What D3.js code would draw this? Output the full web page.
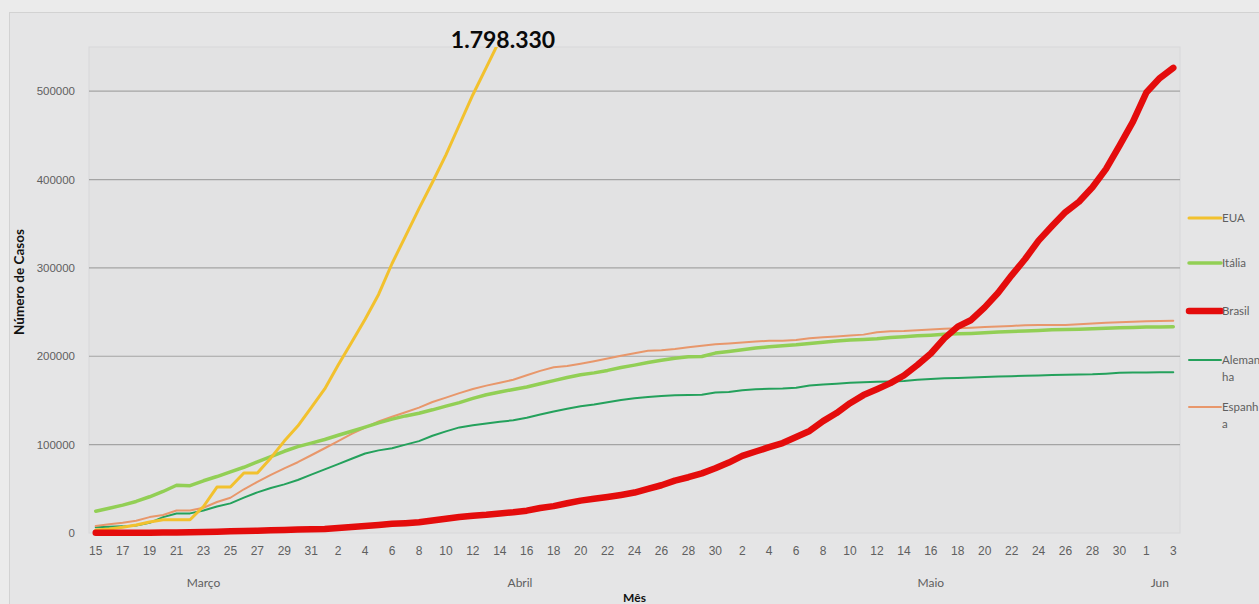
<!DOCTYPE html>
<html>
<head>
<meta charset="utf-8">
<script src="https://cdn.jsdelivr.net/npm/d3@7"></script>
<style>
html,body{margin:0;padding:0;background:#ebebeb;}
svg{display:block;font-family:Lato, "Open Sans", sans-serif;}
</style>
</head>
<body>
<svg id="chart" width="1259" height="604"></svg>
<script>
// ---- Data (cumulative cases) ----
const dias = [15,16,17,18,19,20,21,22,23,24,25,26,27,28,29,30,31,
  1,2,3,4,5,6,7,8,9,10,11,12,13,14,15,16,17,18,19,20,21,22,23,24,25,26,27,28,29,30,
  1,2,3,4,5,6,7,8,9,10,11,12,13,14,15,16,17,18,19,20,21,22,23,24,25,26,27,28,29,30,31,
  1,2,3];
const meses = [
  {nome:"Março", inicio:0, fim:16},
  {nome:"Abril", inicio:17, fim:46},
  {nome:"Maio", inicio:47, fim:77},
  {nome:"Jun", inicio:78, fim:80}
];
const yTicks = [0,100000,200000,300000,400000,500000];

const eua = [3500,4600,6400,9000,12500,15000,15000,15000,30000,52000,52000,68000,68000,85000,104000,121000,142000,
  163000,190000,216000,242000,270000,305000,336000,367000,397000,428000,462000,496000,527000,558000,590000];
const italia = [24700,28000,31500,35700,41000,47000,54000,53600,59100,63900,69200,74400,80600,86500,92500,97700,101700,
  105800,110600,115200,119800,124600,128900,132500,135600,139400,143600,147600,152300,156400,159500,162500,165200,168900,172400,175900,179000,181200,184000,187300,190000,193000,195400,197700,199400,199800,203600,
  205500,207400,209300,210700,211900,213000,214500,215900,217200,218300,219100,219800,221200,222100,223100,223900,224800,225400,225900,226700,227400,228000,228700,229300,229900,230200,230600,231100,231700,232200,232700,
  233000,233200,233500];
const brasil = [150,160,200,234,346,529,640,970,1178,1546,1924,2247,2554,2985,3417,3904,4256,
  4579,5717,6836,8044,9056,10360,11130,12161,14034,16170,18092,19638,20727,22192,23430,25262,28320,30425,33682,36658,38654,40743,43079,45757,50036,54043,59324,63100,67446,73235,
  79685,87187,92202,97100,101826,108620,115455,126611,135773,146894,156061,162699,169594,178214,190137,203165,220291,233511,241080,255368,271885,291579,310087,330890,347398,363211,374898,391222,411821,438238,465166,
  498440,514849,526447];
const alemanha = [6500,7000,7500,8500,11500,18000,22000,22200,25500,30000,33500,40000,46000,51000,55000,60000,66000,
  72000,78000,84000,90000,93500,96000,100000,104000,110000,115000,119500,122000,124000,126000,127500,130500,134000,137500,140500,143500,145500,148000,150500,152500,154000,155000,155800,156200,156500,159000,
  159500,161500,162700,163300,163600,164500,167000,168000,169000,170000,170700,171200,171500,172000,173500,174300,175000,175500,176000,176500,177000,177500,178000,178300,178700,179000,179300,179600,180300,181300,
  181600,181700,181800,181800];
const espanha = [7800,9900,11700,13900,18000,20400,25400,25400,28600,35100,39900,49500,57800,65700,73200,80100,88000,
  95900,104100,112100,119200,126200,131600,136700,141900,148200,153200,158300,163000,166800,170100,173500,178500,183500,187500,189000,191500,194300,197400,200500,203500,206200,206800,208300,210200,211900,213500,
  214400,215500,216600,217500,217500,218300,220400,221500,222500,223400,224500,227200,228200,228600,229500,230300,231200,231800,232400,233000,233600,234300,235200,235300,235400,235500,236300,237200,237900,238600,239200,
  239600,240000,240200];

const series = [
  {nome:"EUA", valores:eua, cor:"#f2c12e", largura:3},
  {nome:"Itália", valores:italia, cor:"#92cf55", largura:3.5},
  {nome:"Brasil", valores:brasil, cor:"#e40c0c", largura:6.5},
  {nome:"Alemanha", valores:alemanha, cor:"#24a15c", largura:2},
  {nome:"Espanha", valores:espanha, cor:"#e8976b", largura:2}
];
const legenda = [
  {serie:"EUA", linhas:["EUA"]},
  {serie:"Itália", linhas:["Itália"]},
  {serie:"Brasil", linhas:["Brasil"]},
  {serie:"Alemanha", linhas:["Aleman","ha"]},
  {serie:"Espanha", linhas:["Espanh","a"]}
];
const anotacao = "1.798.330";

// ---- Layout ----
const svg = d3.select("#chart");
const L = 89, R = 1180, T = 47, B = 533;

svg.append("rect").attr("x",9.5).attr("y",12.5).attr("width",1300).attr("height",700)
  .attr("fill","#e5e5e6").attr("stroke","#d2d2d2");
svg.append("rect").attr("x",L).attr("y",T).attr("width",R-L).attr("height",B-T)
  .attr("fill","#e2e2e3").attr("stroke","#d8d8d9");

const x = d3.scaleBand().domain(d3.range(dias.length)).range([L,R]);
const cx = i => x(i) + x.bandwidth()/2;
const y = d3.scaleLinear().domain([0,550000]).range([B,T]);

// gridlines
svg.append("g").selectAll("line").data(yTicks.filter(d=>d>0)).join("line")
  .attr("x1",L).attr("x2",R).attr("y1",d=>y(d)).attr("y2",d=>y(d))
  .attr("stroke","#a4a4a4").attr("stroke-width",1.2);

// y axis labels
const yAxis = d3.axisLeft(y).tickValues(yTicks).tickSize(0).tickPadding(0).tickFormat(d3.format("d"));
const gy = svg.append("g").attr("transform",`translate(${L-14},0)`).call(yAxis);
gy.select(".domain").remove();
gy.selectAll("text").attr("fill","#5f5f5f").attr("font-size","11.5px");

// x axis labels
const xAxis = d3.axisBottom(x).tickValues(d3.range(0,dias.length,2)).tickSize(0).tickPadding(0)
  .tickFormat(i=>dias[i]);
const gx = svg.append("g").attr("transform",`translate(0,${B+13})`).call(xAxis);
gx.select(".domain").remove();
gx.selectAll("text").attr("fill","#5f5f5f").attr("font-size","12px");

// month labels
svg.append("g").selectAll("text").data(meses).join("text")
  .attr("x",d=>(cx(d.inicio)+cx(d.fim))/2).attr("y",587)
  .attr("text-anchor","middle").attr("fill","#5f5f5f").attr("font-size","12px")
  .text(d=>d.nome);

// axis titles
svg.append("text").attr("x",(L+R)/2).attr("y",602).attr("text-anchor","middle")
  .attr("font-weight","bold").attr("font-size","12px").attr("fill","#111").text("Mês");
svg.append("text").attr("transform",`translate(24,${(T+B)/2 - 8}) rotate(-90)`)
  .attr("text-anchor","middle").attr("font-weight","bold").attr("font-size","13.5px")
  .attr("fill","#111").text("Número de Casos");

// clip
svg.append("clipPath").attr("id","plotclip").append("rect")
  .attr("x",L).attr("y",T).attr("width",R-L).attr("height",B-T+6);

const line = d3.line().defined(d=>d!=null).x((d,i)=>cx(i)).y(d=>y(d));
const order = ["Alemanha","Espanha","Itália","EUA","Brasil"];
svg.append("g").attr("clip-path","url(#plotclip)")
  .selectAll("path").data(order.map(n=>series.find(s=>s.nome===n))).join("path")
  .attr("d",d=>line(d.valores))
  .attr("fill","none").attr("stroke",d=>d.cor).attr("stroke-width",d=>d.largura)
  .attr("stroke-linejoin","round").attr("stroke-linecap","round");

// annotation
svg.append("text").attr("x",503).attr("y",48).attr("text-anchor","middle")
  .attr("font-weight","bold").attr("font-size","23px").attr("fill","#0a0a0a").text(anotacao);

// legend
const legY = [218,263,311,360,407];
const gl = svg.append("g");
legenda.forEach((e,k)=>{
  const s = series.find(d=>d.nome===e.serie);
  gl.append("line").attr("x1",1189).attr("x2",1221).attr("y1",legY[k]).attr("y2",legY[k])
    .attr("stroke",s.cor).attr("stroke-width",s.largura).attr("stroke-linecap","round");
  e.linhas.forEach((t,j)=>{
    gl.append("text").attr("x",1222).attr("y",legY[k]+4+j*17)
      .attr("fill","#5f5f5f").attr("font-size","11.5px").text(t);
  });
});
</script>
</body>
</html>
